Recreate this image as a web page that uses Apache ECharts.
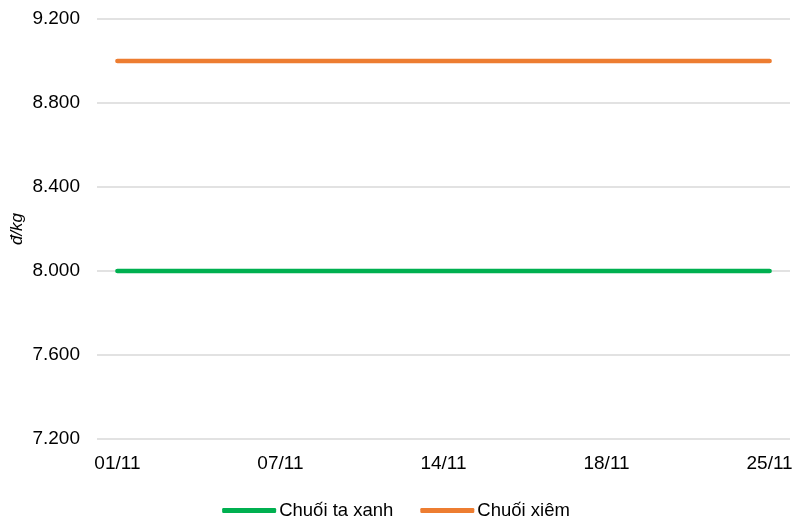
<!DOCTYPE html>
<html>
<head>
<meta charset="utf-8">
<script src="https://cdn.jsdelivr.net/npm/echarts@6/dist/echarts.min.js"></script>
<style>
  html, body { margin: 0; padding: 0; background: #fff; }
  #main { width: 792px; height: 517px; }
</style>
</head>
<body>
<div id="main"></div>
<script>
  // ngày (chỉ một số nhãn được hiển thị)
  var dates = ['01/11', '02/11', '03/11', '04/11', '07/11', '08/11', '09/11', '11/11', '14/11',
    '15/11', '16/11', '17/11', '18/11', '21/11', '22/11', '24/11', '25/11']
  var shownDates = ['01/11', '07/11', '14/11', '18/11', '25/11']
  var chuoiTaXanh = [8000, 8000, 8000, 8000, 8000, 8000, 8000, 8000, 8000,
    8000, 8000, 8000, 8000, 8000, 8000, 8000, 8000]
  var chuoiXiem = [9000, 9000, 9000, 9000, 9000, 9000, 9000, 9000, 9000,
    9000, 9000, 9000, 9000, 9000, 9000, 9000, 9000]
  var yTicks = [7200, 7600, 8000, 8400, 8800, 9200]

  var font = '"Liberation Sans", Arial, sans-serif'

  function fmt (v) {
    return String(v).replace(/\B(?=(\d{3})+(?!\d))/g, '.')
  }

  var myChart = echarts.init(document.getElementById('main'))
  myChart.setOption({
    animation: false,
    textStyle: { fontFamily: font },
    grid: { left: 97, right: 2, top: 19, bottom: 78, outerBoundsMode: 'none' },
    legend: {
      top: 496,
      left: 'center',
      icon: 'roundRect',
      itemWidth: 54,
      itemHeight: 5,
      itemGap: 27,
      textStyle: { fontSize: 18.5, color: '#000', fontFamily: font, padding: [0, 0, 0, -2] },
      data: ['Chuối ta xanh', 'Chuối xiêm']
    },
    xAxis: {
      type: 'category',
      data: dates,
      boundaryGap: true,
      axisLine: { show: false },
      axisTick: { show: false },
      axisLabel: {
        interval: function (i, v) { return shownDates.indexOf(v) >= 0 },
        margin: 15,
        fontSize: 19,
        color: '#000',
        fontFamily: font
      },
      splitLine: { show: false }
    },
    yAxis: {
      type: 'value',
      min: yTicks[0],
      max: yTicks[yTicks.length - 1],
      interval: 400,
      name: 'đ/kg',
      nameLocation: 'middle',
      nameGap: 71,
      nameMoveOverlap: false,
      nameTextStyle: { fontSize: 17, fontStyle: 'italic', color: '#000', fontFamily: font },
      axisLine: { show: false },
      axisTick: { show: false },
      axisLabel: {
        margin: 17,
        fontSize: 19,
        color: '#000',
        fontFamily: font,
        formatter: fmt
      },
      splitLine: { lineStyle: { color: '#d9d9d9', width: 1.5 } }
    },
    series: [{
      name: 'Chuối ta xanh',
      type: 'line',
      data: chuoiTaXanh,
      symbol: 'none',
      color: '#00b050',
      lineStyle: { width: 4.5, cap: 'round' }
    }, {
      name: 'Chuối xiêm',
      type: 'line',
      data: chuoiXiem,
      symbol: 'none',
      color: '#ed7d31',
      lineStyle: { width: 4.5, cap: 'round' }
    }]
  })
</script>
</body>
</html>
